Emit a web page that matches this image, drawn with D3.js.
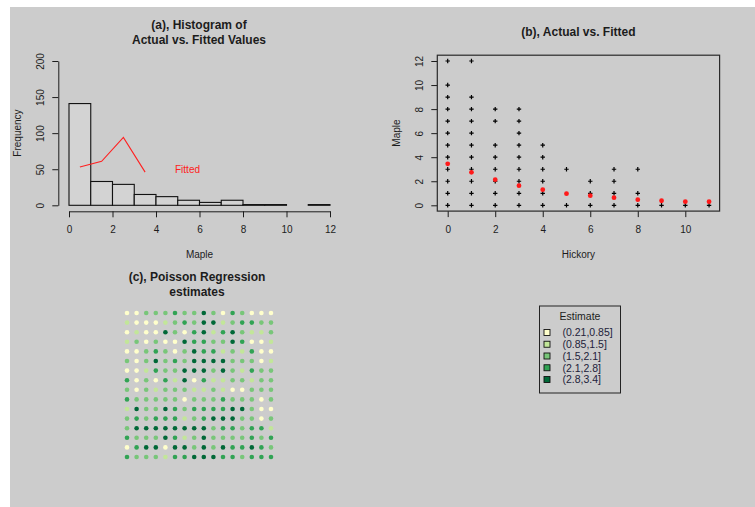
<!DOCTYPE html>
<html>
<head>
<meta charset="utf-8">
<script src="https://cdn.jsdelivr.net/npm/d3@7"></script>
<style>
  html, body { margin: 0; padding: 0; background: #ffffff; }
  svg { display: block; font-family: "Liberation Sans", Arial, Helvetica, sans-serif; }
</style>
</head>
<body>
<svg id="chart" width="755" height="507"></svg>
<script>
// ---- (a) histogram of Maple counts, with fitted frequencies ----
const histBreaks = [0, 1, 2, 3, 4, 5, 6, 7, 8, 9, 10, 11, 12];
const histCounts = [141, 33, 29, 15, 12, 7, 4, 7, 1, 1, 0, 1];
const fittedX = [0.5, 1.5, 2.5, 3.5];
const fittedFreq = [53, 61, 94, 46];
const histXTicks = [0, 2, 4, 6, 8, 10, 12];
const histYTicks = [0, 50, 100, 150, 200];

// ---- (b) observed Maple by Hickory, with fitted means ----
const hickory = [0, 1, 2, 3, 4, 5, 6, 7, 8, 9, 10, 11];
const mapleObserved = [
  [0, 1, 2, 3, 4, 5, 6, 7, 8, 9, 10, 12],
  [0, 1, 2, 3, 4, 5, 6, 7, 8, 9, 12],
  [0, 1, 2, 3, 4, 5, 7, 8],
  [0, 1, 2, 3, 4, 5, 6, 7, 8],
  [0, 1, 2, 3, 4, 5],
  [0, 3],
  [0, 1, 2],
  [0, 1, 2, 3],
  [0, 1, 3],
  [0],
  [0],
  [0]
];
const mapleFitted = [3.45, 2.74, 2.13, 1.63, 1.30, 0.97, 0.80, 0.63, 0.47, 0.38, 0.30, 0.30];
const scatterXTicks = [0, 2, 4, 6, 8, 10];
const scatterYTicks = [0, 2, 4, 6, 8, 10, 12];

// ---- (c) Poisson regression estimates on the 16 x 16 plot grid ----
const estimateLabels = ["(0.21,0.85]", "(0.85,1.5]", "(1.5,2.1]", "(2.1,2.8]", "(2.8,3.4]"];
const estimateColors = ["#ffffcc", "#c2e699", "#78c679", "#31a354", "#006837"];
// class (1..5) of each cell, one array per grid row, top to bottom
const estimateClass = [
  [1,1,3,3,3,4,3,3,5,3,1,4,3,1,1,1],
  [2,1,1,1,2,3,4,3,5,5,2,3,4,4,3,3],
  [1,2,1,1,5,3,1,4,5,2,4,5,3,2,2,3],
  [2,3,1,3,1,1,5,4,4,3,3,5,4,1,1,2],
  [1,1,3,4,3,1,3,5,4,4,2,3,2,4,1,1],
  [3,1,3,5,3,4,3,5,5,5,5,3,3,3,1,2],
  [1,1,2,4,3,3,5,5,5,3,5,3,2,4,3,3],
  [4,1,3,1,4,2,5,1,4,2,2,3,3,2,3,3],
  [3,1,3,2,3,3,3,2,2,3,2,1,1,3,3,3],
  [4,3,3,3,3,3,1,3,3,3,4,3,3,3,1,3],
  [2,5,3,3,5,4,3,4,4,4,4,5,5,3,1,1],
  [3,4,3,4,4,4,2,3,4,5,5,5,3,3,1,3],
  [3,5,5,5,5,5,5,5,5,3,4,4,3,4,4,2],
  [4,3,3,3,5,4,2,3,5,3,3,3,3,4,3,4],
  [1,4,5,5,1,5,5,3,5,3,5,4,4,5,4,3],
  [4,3,3,3,2,4,4,5,5,5,4,4,3,4,4,4]
];

const svg = d3.select("#chart");
const INK = "#1c1c1c";
const TXT = 10;

svg.append("rect")
  .attr("x", 10).attr("y", 7).attr("width", 745).attr("height", 500)
  .attr("fill", "#cccccc");

function title(lines, cx, baselines) {
  lines.forEach((t, i) => {
    svg.append("text")
      .attr("x", cx).attr("y", baselines[i])
      .attr("text-anchor", "middle")
      .attr("font-size", 12).attr("font-weight", "bold")
      .attr("fill", INK)
      .text(t);
  });
}

function styleBottomAxis(g) {
  g.selectAll("path.domain").attr("stroke", INK).attr("stroke-width", 1);
  g.selectAll(".tick line").attr("stroke", INK).attr("stroke-width", 1);
  g.selectAll(".tick text")
    .attr("y", 22.2).attr("dy", 0)
    .attr("font-size", TXT).attr("fill", INK)
    .attr("font-family", "Liberation Sans, Arial, sans-serif");
}

function styleLeftAxis(g) {
  g.selectAll("path.domain").attr("stroke", INK).attr("stroke-width", 1);
  g.selectAll(".tick line").attr("stroke", INK).attr("stroke-width", 1);
  g.selectAll(".tick text")
    .attr("x", null).attr("dy", null).attr("y", null)
    .attr("text-anchor", "middle")
    .attr("transform", "translate(-14,0) rotate(-90)")
    .attr("font-size", TXT).attr("fill", INK)
    .attr("font-family", "Liberation Sans, Arial, sans-serif");
}

// ================= (a) =================
const ax = d3.scaleLinear().domain([0, 12]).range([69, 330]);
const ay = d3.scaleLinear().domain([0, 200]).range([205.3, 61]);

svg.append("g")
  .selectAll("rect")
  .data(histCounts)
  .join("rect")
  .attr("x", (d, i) => ax(histBreaks[i]))
  .attr("y", d => ay(d))
  .attr("width", (d, i) => ax(histBreaks[i + 1]) - ax(histBreaks[i]))
  .attr("height", d => ay(0) - ay(d))
  .attr("fill", "#d3d3d3")
  .attr("stroke", "#111111")
  .attr("stroke-width", 1.1);

svg.append("path")
  .datum(fittedX.map((x, i) => [x, fittedFreq[i]]))
  .attr("fill", "none")
  .attr("stroke", "#ff2020")
  .attr("stroke-width", 1.1)
  .attr("d", d3.line().x(d => ax(d[0])).y(d => ay(d[1])));

svg.append("text")
  .attr("x", ax(5.45)).attr("y", ay(49)).attr("dy", "0.35em")
  .attr("text-anchor", "middle")
  .attr("font-size", TXT).attr("fill", "#ff2020")
  .text("Fitted");

svg.append("g")
  .attr("transform", "translate(0,211.3)")
  .call(d3.axisBottom(ax).tickValues(histXTicks).tickSize(6).tickSizeOuter(0))
  .call(styleBottomAxis);

svg.append("g")
  .attr("transform", "translate(58.3,0)")
  .call(d3.axisLeft(ay).tickValues(histYTicks).tickSize(6).tickSizeOuter(0))
  .call(styleLeftAxis);

title(["(a), Histogram of", "Actual vs. Fitted Values"], 199, [29, 44]);

svg.append("text")
  .attr("x", 199.5).attr("y", 257.5)
  .attr("text-anchor", "middle").attr("font-size", TXT).attr("fill", INK)
  .text("Maple");
svg.append("text")
  .attr("transform", "translate(20.5,133) rotate(-90)")
  .attr("text-anchor", "middle").attr("font-size", TXT).attr("fill", INK)
  .text("Frequency");

// ================= (b) =================
const bx = d3.scaleLinear().domain([0, 10]).range([447.7, 685.3]);
const by = d3.scaleLinear().domain([0, 12]).range([205.3, 61]);

const plus = hickory.flatMap((h, i) => mapleObserved[i].map(m => [h, m]));
svg.append("g")
  .selectAll("path")
  .data(plus)
  .join("path")
  .attr("d", d => {
    const x = bx(d[0]), y = by(d[1]), s = 2.2;
    return `M${x - s},${y}H${x + s}M${x},${y - s}V${y + s}`;
  })
  .attr("stroke", "#000000")
  .attr("stroke-width", 1.2);

svg.append("g")
  .selectAll("circle")
  .data(hickory)
  .join("circle")
  .attr("cx", d => bx(d))
  .attr("cy", (d, i) => by(mapleFitted[i]))
  .attr("r", 2.4)
  .attr("fill", "#ff1a1a");

svg.append("g")
  .attr("transform", "translate(0,211.1)")
  .call(d3.axisBottom(bx).tickValues(scatterXTicks).tickSize(6).tickSizeOuter(0))
  .call(styleBottomAxis)
  .call(g => g.select("path.domain").remove());

svg.append("g")
  .attr("transform", "translate(437.3,0)")
  .call(d3.axisLeft(by).tickValues(scatterYTicks).tickSize(6).tickSizeOuter(0))
  .call(styleLeftAxis)
  .call(g => g.select("path.domain").remove());

svg.append("rect")
  .attr("x", 437.3).attr("y", 55.2)
  .attr("width", 719.6 - 437.3).attr("height", 211.1 - 55.2)
  .attr("fill", "none").attr("stroke", "#2a2a2a").attr("stroke-width", 1.2);

title(["(b), Actual vs. Fitted"], 578.4, [36]);

svg.append("text")
  .attr("x", 578.4).attr("y", 257.5)
  .attr("text-anchor", "middle").attr("font-size", TXT).attr("fill", INK)
  .text("Hickory");
svg.append("text")
  .attr("transform", "translate(400,133) rotate(-90)")
  .attr("text-anchor", "middle").attr("font-size", TXT).attr("fill", INK)
  .text("Maple");

// ================= (c) =================
const cx = d3.scaleLinear().domain([1, 16]).range([127, 271]);
const cy = d3.scaleLinear().domain([1, 16]).range([313, 457]);
const cColor = d3.scaleOrdinal().domain([1, 2, 3, 4, 5]).range(estimateColors);

const cells = estimateClass.flatMap((row, r) => row.map((k, c) => ({ row: r + 1, col: c + 1, k })));
svg.append("g")
  .selectAll("circle")
  .data(cells)
  .join("circle")
  .attr("cx", d => cx(d.col))
  .attr("cy", d => cy(d.row))
  .attr("r", 2.3)
  .attr("fill", d => cColor(d.k));

title(["(c), Poisson Regression", "estimates"], 197, [281, 296]);

// legend
const legend = svg.append("g");
legend.append("rect")
  .attr("x", 539.5).attr("y", 306)
  .attr("width", 81).attr("height", 87)
  .attr("fill", "none").attr("stroke", "#222222").attr("stroke-width", 1);
legend.append("text")
  .attr("x", 580).attr("y", 320)
  .attr("text-anchor", "middle").attr("font-size", 10.5).attr("fill", INK)
  .text("Estimate");
const ly = d3.scalePoint().domain(estimateLabels).range([332.5, 379.5]);
legend.selectAll("rect.key")
  .data(estimateLabels)
  .join("rect")
  .attr("class", "key")
  .attr("x", 544).attr("y", d => ly(d) - 3)
  .attr("width", 6).attr("height", 6)
  .attr("fill", (d, i) => estimateColors[i])
  .attr("stroke", "#111111").attr("stroke-width", 0.9);
legend.selectAll("text.lab")
  .data(estimateLabels)
  .join("text")
  .attr("class", "lab")
  .attr("x", 562.5).attr("y", d => ly(d)).attr("dy", "0.36em")
  .attr("font-size", 10.5).attr("fill", "#22223a")
  .text(d => d);
</script>
</body>
</html>
